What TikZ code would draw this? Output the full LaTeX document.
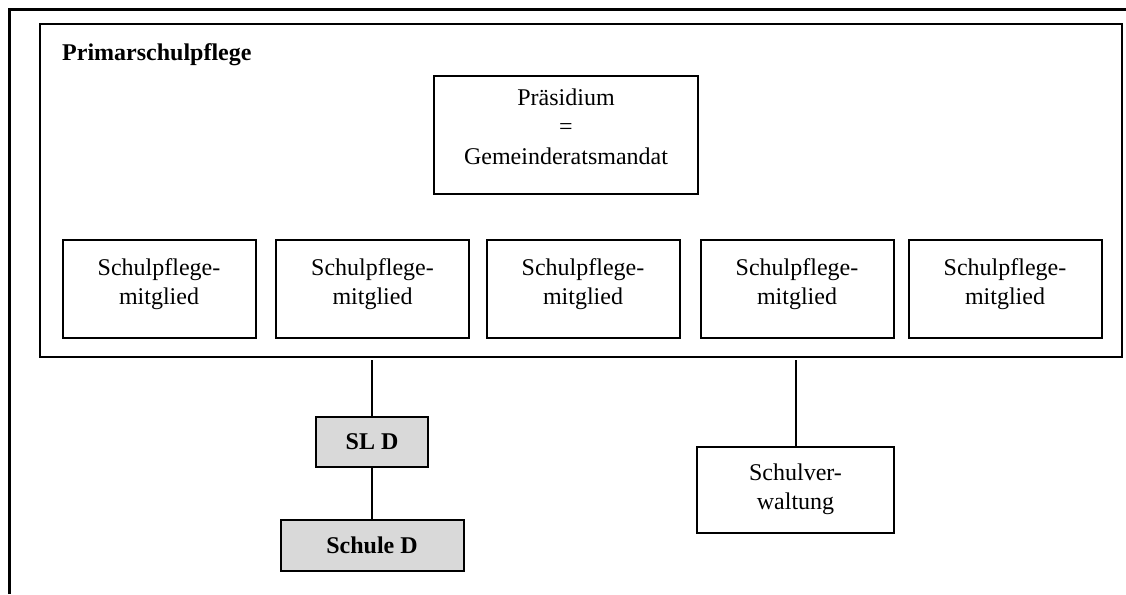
\documentclass[tikz,border=0pt]{standalone}
\usepackage{fontspec}
\setmainfont{Liberation Serif}
\begin{document}
\begin{tikzpicture}[x=1pt,y=-1pt,
  box/.style={draw=black,line width=2pt,rectangle,inner sep=0pt},
  txt/.style={inner sep=0pt,align=center,anchor=north,
    font=\fontsize{24}{29.5}\selectfont},
  graybox/.style={box,fill=boxgray,font=\fontsize{24}{26}\selectfont\bfseries},
  conn/.style={draw=black,line width=2pt}]
\definecolor{boxgray}{HTML}{D9D9D9}
\useasboundingbox (0,0) rectangle (1126,594);
\fill[white] (0,0) rectangle (1126,594);
% page frame (top and left edges)
\draw[line width=3pt] (9,594) -- (9,10) -- (1126,10);
% Primarschulpflege container
\node[box,minimum width=1082pt,minimum height=333pt] (psp) at (581,190.5) {};
\node[anchor=base west,inner sep=0pt,font=\fontsize{24}{26}\selectfont\bfseries] (title) at (62,60) {Primarschulpflege};
% Praesidium
\node[box,minimum width=264pt,minimum height=118pt] (praes) at (566,135) {};
\node[txt] (praest) at ([yshift=-13.5pt]praes.north) {Präsidium\\=\\Gemeinderatsmandat};
% members
\foreach \n/\x in {m1/159,m2/372.5,m3/583,m4/797,m5/1005}{
  \node[box,minimum width=193pt,minimum height=98pt] (\n) at (\x,289) {};
  \node[txt] (\n t) at ([yshift=-19pt]\n.north) {Schulpflege-\\mitglied};
}
% lower boxes
\node[graybox,minimum width=112pt,minimum height=50pt] (sld) at (372,442) {SL D};
\node[graybox,minimum width=183pt,minimum height=51pt] (schd) at (372,545.5) {Schule D};
\node[box,minimum width=197pt,minimum height=86pt] (sv) at (795.5,490) {};
\node[txt] (svt) at ([yshift=-17.5pt]sv.north) {Schulver-\\waltung};
% connectors
\draw[conn] (sld.north |- psp.south) ++(0,2) -- (sld.north);
\draw[conn] (sld.south) -- (schd.north);
\draw[conn] (sv.north |- psp.south) ++(0,2) -- (sv.north);
\end{tikzpicture}
\end{document}
